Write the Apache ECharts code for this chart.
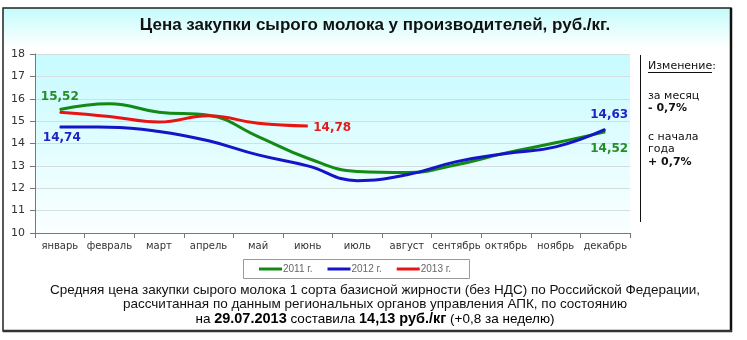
<!DOCTYPE html>
<html>
<head>
<meta charset="utf-8">
<script src="https://cdn.jsdelivr.net/npm/echarts@6/dist/echarts.min.js"></script>
<style>
  html, body { margin: 0; padding: 0; background: #fff; }
  #chart { width: 747px; height: 340px; }
</style>
</head>
<body>
<div id="chart"></div>
<script>
// Monthly raw milk purchase price, rub./kg
const months = ['январь', 'февраль', 'март', 'апрель', 'май', 'июнь',
                'июль', 'август', 'сентябрь', 'октябрь', 'ноябрь', 'декабрь'];
const price2011 = [15.52, 15.78, 15.40, 15.26, 14.31, 13.34, 12.75, 12.70, 13.05, 13.58, 14.03, 14.52];
const price2012 = [14.74, 14.73, 14.54, 14.12, 13.49, 13.00, 12.34, 12.60, 13.19, 13.55, 13.85, 14.63];
const price2013 = [15.40, 15.21, 14.96, 15.24, 14.90, 14.78];
const seriesNames = ['2011 г.', '2012 г.', '2013 г.'];
const yTicks = [10, 11, 12, 13, 14, 15, 16, 17, 18];

const GREEN = '#138a13', BLUE = '#1414c8', RED = '#e81414';
const LABEL_GREEN = '#268c26', LABEL_BLUE = '#2222c4', LABEL_RED = '#e01c1c';
const fmt = v => v.toFixed(2).replace('.', ',');
const labelFont = { fontFamily: 'DejaVu Sans', fontWeight: 'bold', fontSize: 12 };

// value label for a single data point
function pointLabel(v, color, position, distance, offset) {
  return {
    value: v,
    label: Object.assign({
      show: true, position, distance, color,
      offset: offset || [0, 0],
      formatter: p => fmt(p.value)
    }, labelFont)
  };
}

const d2011 = price2011.slice();
d2011[0] = pointLabel(price2011[0], LABEL_GREEN, 'top', 6);
d2011[11] = pointLabel(price2011[11], LABEL_GREEN, 'bottom', 11, [4, 0]);
const d2012 = price2012.slice();
d2012[0] = pointLabel(price2012[0], LABEL_BLUE, 'bottom', 4, [2, 0]);
d2012[11] = pointLabel(price2012[11], LABEL_BLUE, 'top', 8, [4, 0]);
const d2013 = price2013.slice();
d2013[5] = pointLabel(price2013[5], LABEL_RED, 'right', 5, [0, 2]);

const chart = echarts.init(document.getElementById('chart'), null, { renderer: 'canvas' });

const textFont = 'DejaVu Sans';
const noteFont = 'Liberation Sans, Arial';

function lineSeries(name, data, color, z) {
  return {
    name, type: 'line', data, smooth: 0.45,
    symbol: 'circle', symbolSize: 1, showSymbol: true,
    lineStyle: { color, width: 3 }, itemStyle: { color },
    label: { show: false }, z
  };
}

chart.setOption({
  animation: false,
  backgroundColor: '#fff',
  grid: {
    left: 35, right: 117, top: 54, bottom: 107,
    show: true, borderWidth: 0,
    backgroundColor: new echarts.graphic.LinearGradient(0, 0, 0, 1, [
      { offset: 0, color: '#c6fbff' },
      { offset: 1, color: '#fbffff' }
    ])
  },
  legend: {
    data: seriesNames,
    left: 254, top: 259,
    itemWidth: 23, itemHeight: 3, itemGap: 15,
    icon: 'rect',
    textStyle: { fontFamily: noteFont, fontSize: 10, color: '#666', padding: [0, 0, 0, -4] }
  },
  xAxis: {
    type: 'category',
    data: months,
    boundaryGap: true,
    axisLine: { lineStyle: { color: '#777', width: 1 } },
    axisTick: { show: true, alignWithLabel: false, length: 5, lineStyle: { color: '#777' } },
    axisLabel: { fontFamily: textFont, fontSize: 10, color: '#333', margin: 8, interval: 0 },
    splitLine: { show: false }
  },
  yAxis: {
    type: 'value',
    min: yTicks[0], max: yTicks[yTicks.length - 1], interval: 1,
    axisLine: { show: true, lineStyle: { color: '#777' } },
    axisTick: { show: true, length: 5, lineStyle: { color: '#777' } },
    axisLabel: { fontFamily: textFont, fontSize: 11, color: '#333', margin: 10 },
    splitLine: { show: true, lineStyle: { color: '#d4dede', width: 1 } }
  },
  series: [
    lineSeries(seriesNames[0], d2011, GREEN, 3),
    lineSeries(seriesNames[1], d2012, BLUE, 4),
    lineSeries(seriesNames[2], d2013, RED, 5)
  ],
  graphic: [
    // title band
    { type: 'rect', z: -10, shape: { x: 3, y: 8, width: 728, height: 40 },
      style: { fill: new echarts.graphic.LinearGradient(0, 0, 0, 1, [
        { offset: 0, color: '#c4fbfb' }, { offset: 1, color: '#ffffff' }]) } },
    // frame
    { type: 'rect', z: 10, shape: { x: 3, y: 8, width: 728, height: 323 },
      style: { fill: null, stroke: '#222', lineWidth: 1.5 } },
    { type: 'line', z: 10, shape: { x1: 731, y1: 8, x2: 731, y2: 332 },
      style: { stroke: '#111', lineWidth: 2.5 } },
    { type: 'line', z: 10, shape: { x1: 3, y1: 331, x2: 732, y2: 331 },
      style: { stroke: '#333', lineWidth: 2.5 } },
    { type: 'text', z: 11, style: {
        x: 375, y: 25, text: 'Цена закупки сырого молока у производителей, руб./кг.',
        align: 'center', verticalAlign: 'middle',
        font: 'bold 17px Liberation Sans, Arial', fill: '#111' } },
    // side panel
    { type: 'line', z: 10, shape: { x1: 640.5, y1: 55, x2: 640.5, y2: 222 },
      style: { stroke: '#111', lineWidth: 1 } },
    { type: 'text', style: { x: 648, y: 66, text: 'Изменение:', verticalAlign: 'middle',
        font: '11px DejaVu Sans', fill: '#111' } },
    { type: 'line', shape: { x1: 648, y1: 72.5, x2: 712, y2: 72.5 },
      style: { stroke: '#111', lineWidth: 1 } },
    { type: 'text', style: { x: 648, y: 96, text: 'за месяц', verticalAlign: 'middle',
        font: '11px DejaVu Sans', fill: '#111' } },
    { type: 'text', style: { x: 648, y: 108, text: '- 0,7%', verticalAlign: 'middle',
        font: 'bold 11px DejaVu Sans', fill: '#111' } },
    { type: 'text', style: { x: 648, y: 137, text: 'с начала', verticalAlign: 'middle',
        font: '11px DejaVu Sans', fill: '#111' } },
    { type: 'text', style: { x: 648, y: 149, text: 'года', verticalAlign: 'middle',
        font: '11px DejaVu Sans', fill: '#111' } },
    { type: 'text', style: { x: 648, y: 162, text: '+ 0,7%', verticalAlign: 'middle',
        font: 'bold 11px DejaVu Sans', fill: '#111' } },
    // legend box
    { type: 'rect', shape: { x: 243.5, y: 259.5, width: 226, height: 19 },
      style: { fill: null, stroke: '#999', lineWidth: 1 } },
    // note under the chart
    { type: 'text', style: { x: 375, y: 290,
        text: 'Средняя цена закупки сырого молока 1 сорта базисной жирности (без НДС) по Российской Федерации,',
        align: 'center', verticalAlign: 'middle', font: '13.5px ' + noteFont, fill: '#111' } },
    { type: 'text', style: { x: 375, y: 304,
        text: 'рассчитанная по данным региональных органов управления АПК, по состоянию',
        align: 'center', verticalAlign: 'middle', font: '13.5px ' + noteFont, fill: '#111' } },
    { type: 'text', style: { x: 375, y: 319,
        text: '{n|на }{b|29.07.2013}{n| составила }{b|14,13 руб./кг}{n| (+0,8 за неделю)}',
        align: 'center', verticalAlign: 'middle',
        rich: {
          n: { fontFamily: noteFont, fontSize: 13.5, color: '#111' },
          b: { fontFamily: noteFont, fontSize: 14.5, fontWeight: 'bold', color: '#111' }
        } } }
  ]
});
</script>
</body>
</html>
